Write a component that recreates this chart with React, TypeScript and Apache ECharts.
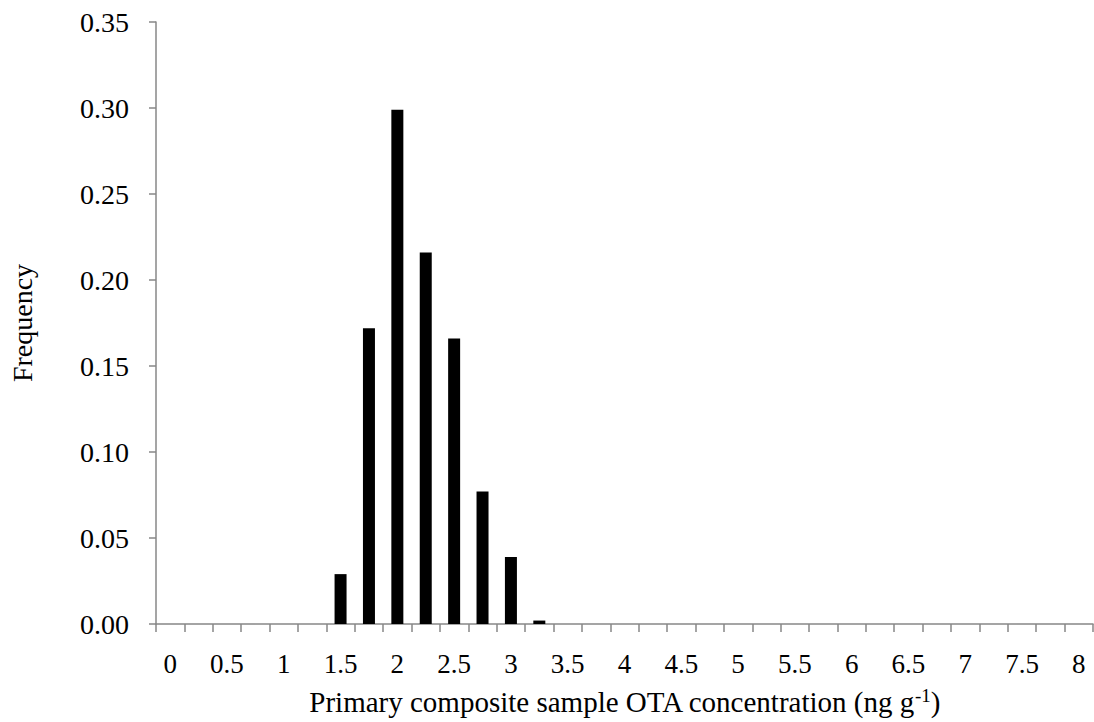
import React, { useEffect, useRef } from "react";
import * as echarts from "echarts";

const categories = [
  "0", "0.25", "0.5", "0.75", "1", "1.25", "1.5", "1.75", "2", "2.25", "2.5",
  "2.75", "3", "3.25", "3.5", "3.75", "4", "4.25", "4.5", "4.75", "5", "5.25",
  "5.5", "5.75", "6", "6.25", "6.5", "6.75", "7", "7.25", "7.5", "7.75", "8",
];
const frequency = [
  0, 0, 0, 0, 0, 0, 0.029, 0.172, 0.299, 0.216, 0.166, 0.077, 0.039, 0.002,
  0, 0, 0, 0, 0, 0, 0, 0, 0, 0, 0, 0, 0, 0, 0, 0, 0, 0, 0,
];
const yMin = 0;
const yMax = 0.35;
const yStep = 0.05;

const FONT = "Liberation Serif";
const AXIS = "#878787";

export default function App() {
  const ref = useRef<HTMLDivElement>(null);
  useEffect(() => {
    if (!ref.current) return;
    const chart = echarts.init(ref.current, undefined, { renderer: "svg" });
    chart.setOption({
      animation: false,
      backgroundColor: "#ffffff",
      textStyle: { fontFamily: FONT },
      grid: { left: 153, right: 1, top: 22, bottom: 98, containLabel: false },
      xAxis: {
        type: "category",
        data: categories,
        boundaryGap: true,
        name: "Primary composite sample OTA concentration (ng g{sup|-1})",
        nameLocation: "middle",
        nameGap: 62,
        nameTextStyle: {
          fontFamily: FONT,
          fontSize: 29,
          color: "#000",
          rich: {
            sup: { fontFamily: FONT, fontSize: 19, color: "#000", verticalAlign: "top", padding: [0, 0, 12, 0] },
          },
        },
        axisLine: { show: true, lineStyle: { color: AXIS, width: 1.5 } },
        axisTick: { show: true, interval: 0, length: 8, lineStyle: { color: AXIS, width: 1.5 } },
        axisLabel: { interval: 1, margin: 26, fontFamily: FONT, fontSize: 27, color: "#000" },
        splitLine: { show: false },
      },
      yAxis: {
        type: "value",
        min: yMin,
        max: yMax,
        interval: yStep,
        name: "Frequency",
        nameLocation: "middle",
        nameGap: 120,
        nameRotate: 90,
        nameTextStyle: { fontFamily: FONT, fontSize: 28, color: "#000" },
        axisLine: { show: true, lineStyle: { color: AXIS, width: 1.5 } },
        axisTick: { show: true, length: 7, lineStyle: { color: AXIS, width: 1.5 } },
        axisLabel: {
          margin: 27,
          fontFamily: FONT,
          fontSize: 28,
          color: "#000",
          formatter: (v: number) => v.toFixed(2),
        },
        splitLine: { show: false },
      },
      series: [
        {
          type: "bar",
          data: frequency,
          barWidth: 12,
          itemStyle: { color: "#000000" },
        },
      ],
    });
    return () => chart.dispose();
  }, []);
  return <div ref={ref} style={{ width: 1094, height: 722, position: "absolute", left: 0, top: 0 }} />;
}
